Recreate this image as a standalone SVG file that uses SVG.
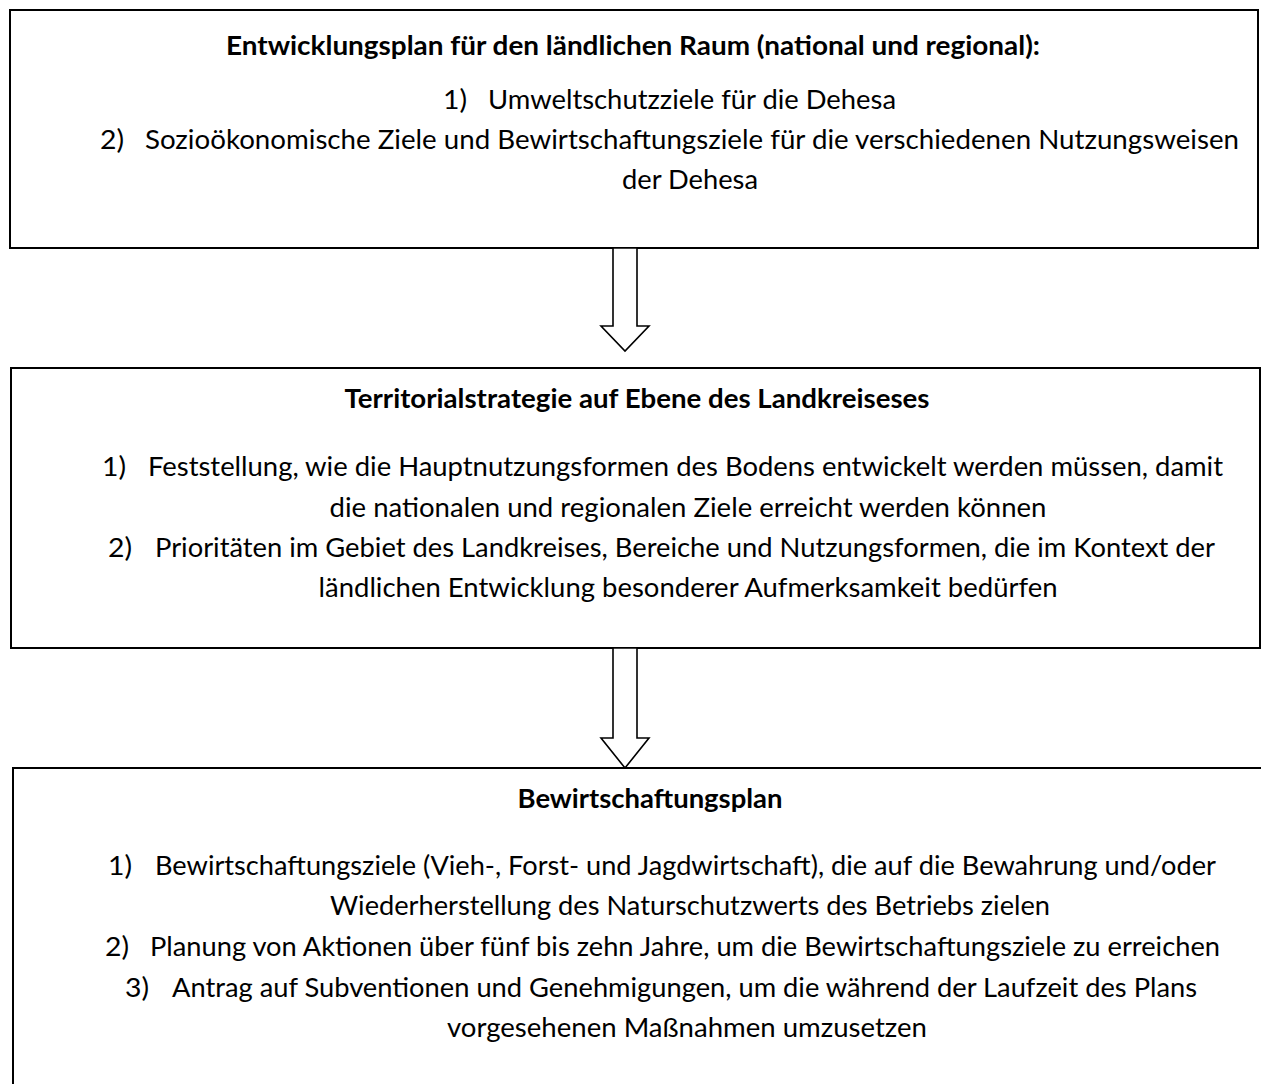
<svg xmlns="http://www.w3.org/2000/svg" width="1261" height="1084" viewBox="0 0 1261 1084">
<style>
.box{fill:#fff;stroke:#000;stroke-width:2}
.arr{fill:#fff;stroke:#000;stroke-width:1.6;stroke-linejoin:miter}
text{font-family:Lato,"Carlito","Liberation Sans",sans-serif;font-size:26.5px;fill:#000}
.t{font-weight:bold}
.c{text-anchor:middle}
</style>
<rect width="1261" height="1084" fill="#fff"/>
<g id="node-entwicklungsplan">
<rect class="box" x="10" y="10" width="1248" height="238"/>
<text class="t c" x="633" y="55" textLength="814" lengthAdjust="spacingAndGlyphs">Entwicklungsplan für den ländlichen Raum (national und regional):</text>
<text x="443" y="109" textLength="24" lengthAdjust="spacingAndGlyphs">1)</text>
<text x="488" y="109" textLength="408" lengthAdjust="spacingAndGlyphs">Umweltschutzziele für die Dehesa</text>
<text x="100" y="149" textLength="24" lengthAdjust="spacingAndGlyphs">2)</text>
<text x="145" y="149" textLength="1094" lengthAdjust="spacingAndGlyphs">Sozioökonomische Ziele und Bewirtschaftungsziele für die verschiedenen Nutzungsweisen</text>
<text class="c" x="690" y="189" textLength="136" lengthAdjust="spacingAndGlyphs">der Dehesa</text>
</g>
<g id="node-territorialstrategie">
<rect class="box" x="11" y="368" width="1249" height="280"/>
<text class="t c" x="637" y="408" textLength="585" lengthAdjust="spacingAndGlyphs">Territorialstrategie auf Ebene des Landkreiseses</text>
<text x="102" y="476" textLength="24" lengthAdjust="spacingAndGlyphs">1)</text>
<text x="148" y="476" textLength="1075" lengthAdjust="spacingAndGlyphs">Feststellung, wie die Hauptnutzungsformen des Bodens entwickelt werden müssen, damit</text>
<text class="c" x="688" y="516.5" textLength="717" lengthAdjust="spacingAndGlyphs">die nationalen und regionalen Ziele erreicht werden können</text>
<text x="108" y="557" textLength="24" lengthAdjust="spacingAndGlyphs">2)</text>
<text x="155" y="557" textLength="1060" lengthAdjust="spacingAndGlyphs">Prioritäten im Gebiet des Landkreises, Bereiche und Nutzungsformen, die im Kontext der</text>
<text class="c" x="688" y="597" textLength="739" lengthAdjust="spacingAndGlyphs">ländlichen Entwicklung besonderer Aufmerksamkeit bedürfen</text>
</g>
<g id="node-bewirtschaftungsplan">
<rect class="box" x="13" y="768" width="1260" height="330"/>
<text class="t c" x="650" y="808" textLength="265" lengthAdjust="spacingAndGlyphs">Bewirtschaftungsplan</text>
<text x="108" y="875" textLength="24" lengthAdjust="spacingAndGlyphs">1)</text>
<text x="155" y="875" textLength="1061" lengthAdjust="spacingAndGlyphs">Bewirtschaftungsziele (Vieh-, Forst- und Jagdwirtschaft), die auf die Bewahrung und/oder</text>
<text class="c" x="690" y="915" textLength="720" lengthAdjust="spacingAndGlyphs">Wiederherstellung des Naturschutzwerts des Betriebs zielen</text>
<text x="105" y="956" textLength="24" lengthAdjust="spacingAndGlyphs">2)</text>
<text x="150" y="956" textLength="1070" lengthAdjust="spacingAndGlyphs">Planung von Aktionen über fünf bis zehn Jahre, um die Bewirtschaftungsziele zu erreichen</text>
<text x="125" y="997" textLength="24" lengthAdjust="spacingAndGlyphs">3)</text>
<text x="172" y="997" textLength="1025" lengthAdjust="spacingAndGlyphs">Antrag auf Subventionen und Genehmigungen, um die während der Laufzeit des Plans</text>
<text class="c" x="687" y="1037" textLength="480" lengthAdjust="spacingAndGlyphs">vorgesehenen Maßnahmen umzusetzen</text>
</g>
<g id="connectors">
<polygon class="arr" points="613,248 637,248 637,326 649,326 625,351 601,326 613,326"/>
<polygon class="arr" points="613,648 637,648 637,738 649,738 625,768 601,738 613,738"/>
</g>
</svg>
